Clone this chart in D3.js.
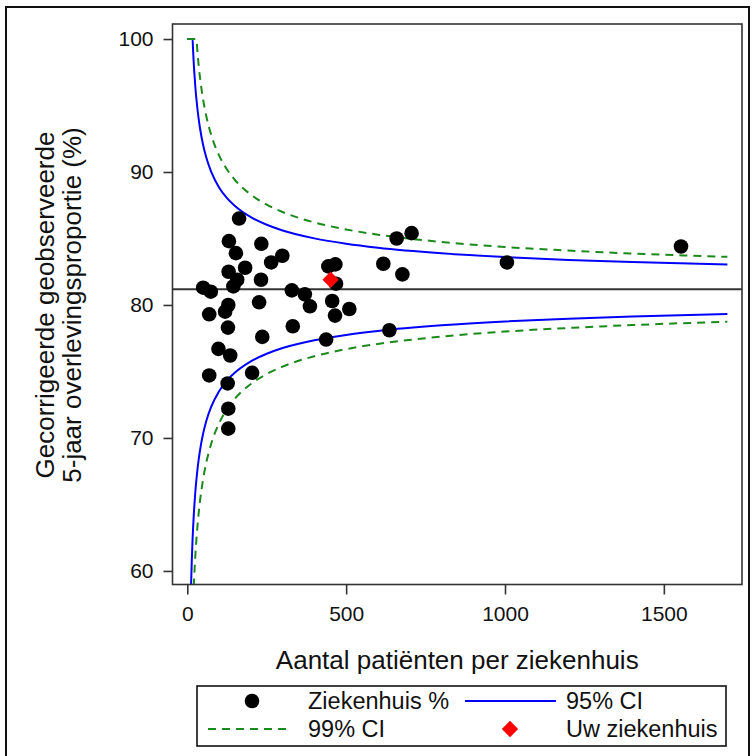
<!DOCTYPE html>
<html>
<head>
<meta charset="utf-8">
<script src="https://cdn.jsdelivr.net/npm/d3@7"></script>
<style>
  html, body { margin: 0; padding: 0; background: #fff; }
  svg { display: block; font-family: "Liberation Sans", Arial, sans-serif; }
</style>
</head>
<body>
<svg id="chart" width="752" height="756"></svg>
<script>
// ---- Data ----
// Hospitals: number of patients and corrected observed 5-year survival (%)
const hospitalN = [163, 131, 153, 233, 299, 264, 182, 130, 157, 232, 145, 50, 74,
  444, 466, 468, 329, 370, 386, 226, 129, 119, 69, 456, 510, 465, 128, 332, 236,
  437, 98, 135, 69, 204, 127, 129, 129, 617, 659, 706, 677, 636, 1006, 1554];
const hospitalPct = [86.5, 84.8, 83.9, 84.6, 83.7, 83.2, 82.8, 82.5, 81.9, 81.9, 81.4, 81.3, 81.0,
  82.9, 83.05, 81.6, 81.1, 80.8, 79.9, 80.2, 80.0, 79.5, 79.3, 80.3, 79.7, 79.2, 78.3, 78.4, 77.6,
  77.4, 76.7, 76.2, 74.7, 74.9, 74.1, 72.2, 70.7, 83.1, 85.0, 85.4, 82.3, 78.1, 83.2, 84.4];
// Your hospital
const ownN = [451];
const ownPct = [81.9];
// Overall mean
const meanPct = 81.18;
// Control limits (funnel), sampled at these patient numbers
const limitN     = [0, 10, 12, 14, 16.6, 18, 20, 22, 25, 28.6, 32, 36, 40, 50, 60, 75, 100, 125, 150, 200, 250, 300, 400, 500, 600, 800, 1000, 1200, 1400, 1700];
const upper95    = [100, 100, 100, 100, 100, 99.24, 98.31, 97.51, 96.50, 95.51, 94.72, 93.95, 93.29, 92.01, 91.07, 90.03, 88.84, 88.03, 87.44, 86.60, 86.03, 85.60, 85.01, 84.61, 84.31, 83.89, 83.60, 83.39, 83.23, 83.04];
const lower95    = [56.95, 56.95, 59.06, 60.71, 62.38, 63.12, 64.05, 64.85, 65.86, 66.85, 67.64, 68.41, 69.07, 70.35, 71.29, 72.33, 73.52, 74.33, 74.92, 75.76, 76.33, 76.76, 77.35, 77.75, 78.05, 78.47, 78.76, 78.97, 79.13, 79.32];
const upper99    = [100, 100, 100, 100, 100, 100, 100, 100, 100, 100, 98.98, 97.96, 97.10, 95.42, 94.18, 92.81, 91.25, 90.19, 89.40, 88.30, 87.55, 86.99, 86.21, 85.68, 85.29, 84.74, 84.36, 84.09, 83.87, 83.62];
const lower99    = [49.34, 49.34, 52.11, 54.27, 56.47, 57.45, 58.67, 59.71, 61.04, 62.35, 63.38, 64.40, 65.26, 66.94, 68.18, 69.55, 71.11, 72.17, 72.96, 74.06, 74.81, 75.37, 76.15, 76.68, 77.07, 77.62, 78.00, 78.27, 78.49, 78.74];
const xTicks = [0, 500, 1000, 1500];
const yTicks = [60, 70, 80, 90, 100];
const xTitle = "Aantal patiënten per ziekenhuis";
const yTitle = ["Gecorrigeerde geobserveerde", "5-jaar overlevingsproportie (%)"];
const legendLabels = ["Ziekenhuis %", "95% CI", "99% CI", "Uw ziekenhuis"];

// ---- Layout ----
const svg = d3.select("#chart");
const plot = { left: 172.5, right: 742, top: 24, bottom: 584.5 };
const x = d3.scaleLinear().domain([-46.6, 1746]).range([plot.left, plot.right]);
const y = d3.scaleLinear().domain([58.98, 101.13]).range([plot.bottom, plot.top]);

const BLUE = "#0000ff", GREEN = "#1a8a1a", RED = "#ff0000";

// outer border
svg.append("rect").attr("x", 6).attr("y", 7).attr("width", 743).attr("height", 760)
  .attr("fill", "none").attr("stroke", "#111").attr("stroke-width", 2);

svg.append("defs").append("clipPath").attr("id", "clip")
  .append("rect").attr("x", plot.left).attr("y", plot.top)
  .attr("width", plot.right - plot.left).attr("height", plot.bottom - plot.top);

const g = svg.append("g").attr("clip-path", "url(#clip)");

// mean line
g.append("line").attr("x1", plot.left).attr("x2", plot.right)
  .attr("y1", y(meanPct)).attr("y2", y(meanPct))
  .attr("stroke", "#333").attr("stroke-width", 2);

const mk = (arr) => limitN.map((n, i) => [n, arr[i]]);
const line = d3.line().x(d => x(d[0])).y(d => y(d[1])).curve(d3.curveMonotoneX);

g.append("path").attr("d", line(mk(upper95))).attr("fill", "none").attr("stroke", BLUE).attr("stroke-width", 2);
g.append("path").attr("d", line(mk(lower95).slice(1))).attr("fill", "none").attr("stroke", BLUE).attr("stroke-width", 2);
g.append("path").attr("d", line(mk(upper99))).attr("fill", "none").attr("stroke", GREEN).attr("stroke-width", 2).attr("stroke-dasharray", "8,6");
g.append("path").attr("d", line(mk(lower99).slice(1))).attr("fill", "none").attr("stroke", GREEN).attr("stroke-width", 2).attr("stroke-dasharray", "8,6");

// hospital points
g.selectAll("circle.h").data(hospitalN.map((n, i) => [n, hospitalPct[i]])).enter()
  .append("circle").attr("class", "h")
  .attr("cx", d => x(d[0])).attr("cy", d => y(d[1])).attr("r", 7.3).attr("fill", "#000");

// own hospital
g.selectAll("path.own").data(ownN.map((n, i) => [n, ownPct[i]])).enter()
  .append("path").attr("class", "own")
  .attr("transform", d => `translate(${x(d[0])},${y(d[1])})`)
  .attr("d", d3.symbol().type(d3.symbolDiamond2).size(170)()).attr("fill", RED);

// frame
svg.append("rect").attr("x", plot.left).attr("y", plot.top)
  .attr("width", plot.right - plot.left).attr("height", plot.bottom - plot.top)
  .attr("fill", "none").attr("stroke", "#333").attr("stroke-width", 1.6);

// axes
const xAxis = svg.append("g").attr("transform", `translate(0,${plot.bottom})`)
  .call(d3.axisBottom(x).tickValues(xTicks).tickSize(10).tickPadding(12).tickFormat(d3.format("d")));
const yAxis = svg.append("g").attr("transform", `translate(${plot.left},0)`)
  .call(d3.axisLeft(y).tickValues(yTicks).tickSize(9).tickPadding(10).tickFormat(d3.format("d")));
[xAxis, yAxis].forEach(a => {
  a.select(".domain").remove();
  a.selectAll(".tick line").attr("stroke", "#333").attr("stroke-width", 1.6);
  a.selectAll(".tick text").attr("font-size", 21).attr("fill", "#111")
    .attr("font-family", "'Liberation Sans', Arial, sans-serif");
});

// titles
svg.append("text").attr("x", (plot.left + plot.right) / 2).attr("y", 660)
  .attr("text-anchor", "middle").attr("dominant-baseline", "central")
  .attr("font-size", 26).attr("fill", "#111").text(xTitle);
yTitle.forEach((t, i) => {
  svg.append("text").attr("transform", `translate(${45 + i * 27},305) rotate(-90)`)
    .attr("text-anchor", "middle").attr("dominant-baseline", "central")
    .attr("font-size", 26).attr("fill", "#111").text(t);
});

// legend
const lg = svg.append("g");
lg.append("rect").attr("x", 197).attr("y", 686).attr("width", 529).attr("height", 60)
  .attr("fill", "none").attr("stroke", "#111").attr("stroke-width", 1.6);
const r1 = 701, r2 = 729;
lg.append("circle").attr("cx", 252).attr("cy", r1).attr("r", 7.3).attr("fill", "#000");
lg.append("line").attr("x1", 465).attr("x2", 556).attr("y1", r1).attr("y2", r1).attr("stroke", BLUE).attr("stroke-width", 2);
lg.append("line").attr("x1", 208).attr("x2", 292).attr("y1", r2).attr("y2", r2).attr("stroke", GREEN).attr("stroke-width", 2).attr("stroke-dasharray", "8,6");
lg.append("path").attr("transform", `translate(510,${r2})`).attr("d", d3.symbol().type(d3.symbolDiamond2).size(170)()).attr("fill", RED);
const lt = [[308, r1, legendLabels[0]], [566, r1, legendLabels[1]], [308, r2, legendLabels[2]], [566, r2, legendLabels[3]]];
lt.forEach(([lx, ly, t]) => lg.append("text").attr("x", lx).attr("y", ly)
  .attr("dominant-baseline", "central").attr("font-size", 23.5).attr("fill", "#111").text(t));
</script>
</body>
</html>
